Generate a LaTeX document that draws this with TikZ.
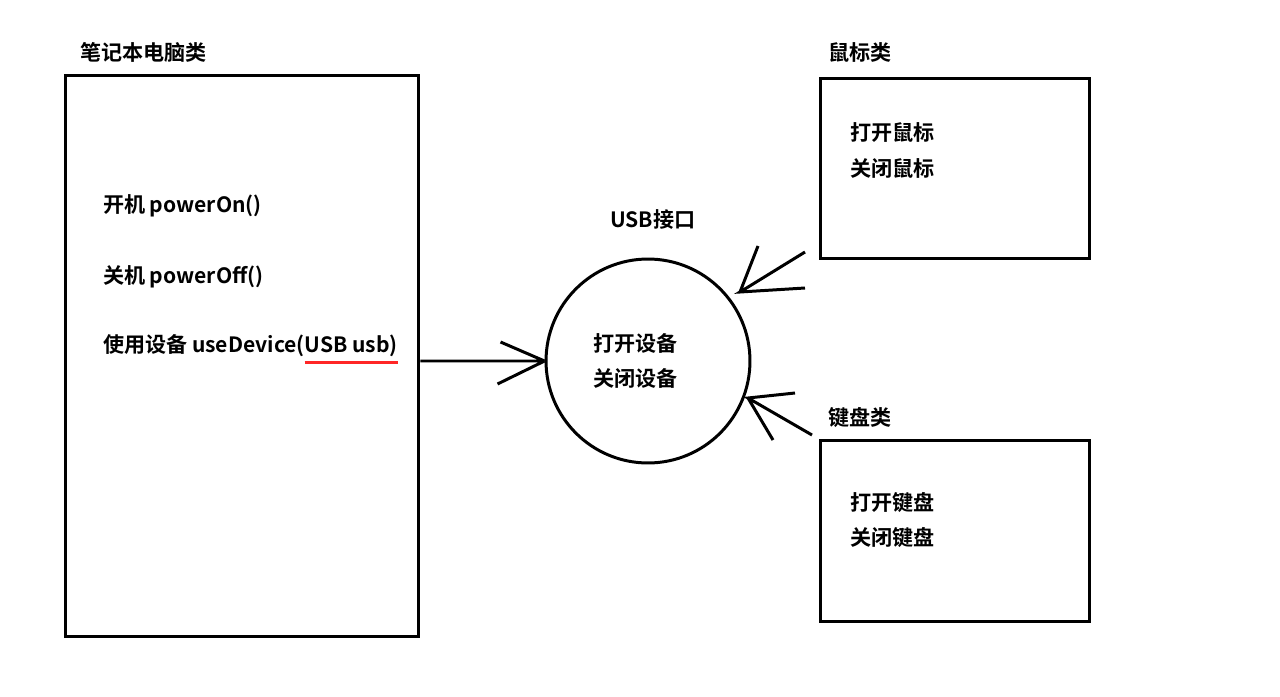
\documentclass[tikz,border=0pt]{standalone}
\usepackage{fontspec}
\setmainfont{Noto Sans CJK SC}[BoldFont={Noto Sans CJK SC Bold}]
\usepackage{tikz}
\usetikzlibrary{positioning}

\begin{document}
\begin{tikzpicture}[x=0.02cm, y=-0.02cm, line width=1.7pt,
  box/.style={draw, rectangle, inner sep=0pt},
  txt/.style={anchor=west, inner sep=0pt, outer sep=0pt, font=\bfseries\fontsize{12}{14}\selectfont}]
  \useasboundingbox[fill=white] (0,0) rectangle (1280,696);
  \node[box, minimum width=7.08cm, minimum height=11.24cm] (laptop) at (242,356) {};
  \node[box, circle, minimum size=4.08cm] (usb) at (648,361) {};
  \node[box, minimum width=5.4cm, minimum height=3.62cm] (mouse) at (955,168.5) {};
  \node[box, minimum width=5.4cm, minimum height=3.64cm] (keyboard) at (955,531) {};
  \node[txt] (laptoplabel) at (80,52) {笔记本电脑类};
  \node[txt] (poweron) at (103,206) {开机 powerOn()};
  \node[txt] (poweroff) at (103,277) {关机 powerOff()};
  \node[txt] (usedev) at (103,346) {使用设备 useDevice(};
  \node[txt, anchor=base west] (usbarg) at (usedev.base east) {USB usb)};
  \node[txt] (usblabel) at (610,220) {USB接口};
  \node[txt] (usbopen) at (593,343) {打开设备};
  \node[txt] (usbclose) at (593,378) {关闭设备};
  \node[txt] (mouselabel) at (828,52) {鼠标类};
  \node[txt] (mouseopen) at (850,133) {打开鼠标};
  \node[txt] (mouseclose) at (850,168) {关闭鼠标};
  \node[txt] (keyboardlabel) at (828,418) {键盘类};
  \node[txt] (keyboardopen) at (850,503) {打开键盘};
  \node[txt] (keyboardclose) at (850,538) {关闭键盘};
  \coordinate (mtip) at (740,292);
  \coordinate (ktip) at (748,398);
  \draw[red!85!white] ([yshift=-3pt]usbarg.south west) -- ([yshift=-3pt]usbarg.south east);
  \draw
  (laptop.east |- usb.west) -- (usb.west)
  (usb.west) -- ++(-44,-19)
  (usb.west) -- ++(-47,23)
  ;
  \draw
  (805,288) -- (mtip) -- (805,252)
  (758,246) -- (mtip)
  (795,393) -- (ktip) -- (812,435)
  (773,440) -- (ktip)
  ;
\end{tikzpicture}
\end{document}
